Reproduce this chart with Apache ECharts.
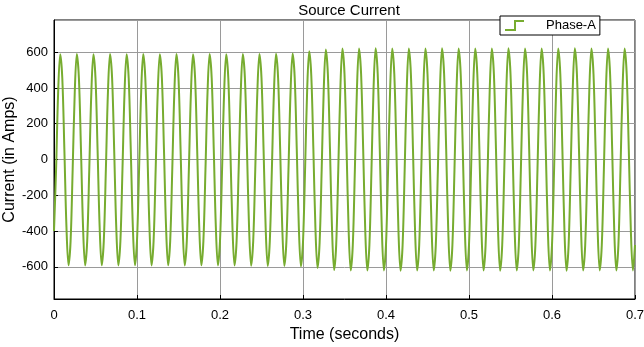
<!DOCTYPE html>
<html>
<head>
<meta charset="utf-8">
<script src="https://cdn.jsdelivr.net/npm/echarts@6/dist/echarts.min.js"></script>
<style>
html,body{margin:0;padding:0;background:#fff;}
#c{width:644px;height:347px;}
</style>
</head>
<body>
<div id="c"></div>
<script>
// Sample time step of the waveform (seconds)
var timeStep = 0.0025;
var xTicks = [0, 0.1, 0.2, 0.3, 0.4, 0.5, 0.6, 0.7];
var yTicks = [-600, -400, -200, 0, 200, 400, 600];
var seriesName = 'Phase-A';
// Phase-A source current samples (A), one row per 20 ms cycle
var phaseA = [
  -400, -55, 376, 589, 454, 55, -377, -591,
  -455, -54, 375, 590, 455, 56, -378, -592,
  -456, -55, 376, 589, 454, 55, -377, -591,
  -455, -55, 377, 590, 455, 55, -378, -592,
  -456, -54, 376, 589, 454, 56, -377, -591,
  -455, -55, 376, 590, 455, 55, -378, -592,
  -456, -55, 377, 589, 454, 55, -377, -591,
  -455, -54, 376, 590, 455, 56, -378, -592,
  -456, -55, 376, 589, 454, 55, -377, -591,
  -455, -55, 377, 590, 455, 55, -378, -592,
  -456, -54, 376, 589, 454, 56, -377, -593,
  -456, -55, 376, 590, 455, 55, -378, -594,
  -457, -55, 377, 590, 455, 55, -379, -595,
  -458, -55, 377, 591, 456, 56, -379, -595,
  -458, -56, 378, 592, 457, 56, -381, -598,
  -461, -57, 386, 605, 467, 57, -387, -606,
  -467, -58, 392, 615, 474, 58, -393, -618,
  -476, -58, 396, 620, 478, 58, -396, -621,
  -478, -58, 396, 621, 478, 58, -396, -621,
  -478, -58, 397, 622, 479, 58, -396, -620,
  -477, -58, 396, 621, 478, 58, -397, -622,
  -479, -58, 396, 620, 477, 58, -396, -621,
  -478, -58, 396, 621, 478, 58, -396, -621,
  -478, -58, 397, 622, 479, 58, -397, -622,
  -479, -58, 396, 621, 478, 58, -396, -620,
  -477, -58, 396, 620, 477, 58, -396, -621,
  -478, -58, 396, 621, 478, 58, -397, -622,
  -479, -58, 397, 622, 479, 58, -396, -621,
  -478, -58, 396, 621, 478, 58, -396, -620,
  -477, -58, 396, 620, 477, 58, -396, -621,
  -478, -58, 397, 621, 478, 58, -397, -622,
  -479, -58, 396, 622, 479, 58, -396, -621,
  -478, -58, 396, 621, 478, 58, -396, -620,
  -477, -58, 396, 620, 477, 58, -397, -621,
  -478, -58, 396, 621, 478, 58, -396, -621,
  -478
];

var data = phaseA.map(function (v, i) { return [+(i * timeStep).toFixed(4), v]; });

var FONT = '"Liberation Sans", Arial, Helvetica, sans-serif';
var chart = echarts.init(document.getElementById('c'), null, {renderer: 'canvas'});
chart.setOption({
  animation: false,
  backgroundColor: '#ffffff',
  title: {
    text: 'Source Current',
    left: 344, top: -2,
    textAlign: 'center',
    textStyle: {fontFamily: FONT, fontSize: 15, fontWeight: 'normal', color: '#000'}
  },
  legend: {
    left: 500, top: 16,
    padding: [3, 4, 3, 5],
    backgroundColor: '#fff',
    borderColor: '#000', borderWidth: 1, borderRadius: 0,
    itemWidth: 19, itemHeight: 11,
    icon: 'path://M0,9 L9,9 L9,0 L19,0 L19,2 L11,2 L11,11 L0,11 Z',
    textStyle: {fontFamily: FONT, fontSize: 13, color: '#000', padding: [0, 0, 0, 17]},
    data: [seriesName]
  },
  grid: {
    left: 54, right: 9, top: 20, bottom: 48,
    containLabel: false, outerBoundsMode: 'none',
    show: true, borderColor: '#000', borderWidth: 1, backgroundColor: '#fff'
  },
  xAxis: {
    type: 'value',
    min: xTicks[0], max: xTicks[xTicks.length - 1], interval: 0.1,
    name: 'Time (seconds)', nameLocation: 'middle', nameGap: 28, nameMoveOverlap: false,
    nameTextStyle: {fontFamily: FONT, fontSize: 16, color: '#000'},
    axisLine: {show: true, onZero: false, lineStyle: {color: '#000', width: 1}},
    axisTick: {show: true, inside: true, length: 4, lineStyle: {color: '#000'}},
    axisLabel: {fontFamily: FONT, fontSize: 13, color: '#000', margin: 10,
      formatter: function (v) { return String(+v.toFixed(2)); }},
    splitLine: {show: true, lineStyle: {color: '#9a9a9a', width: 1}}
  },
  yAxis: {
    type: 'value',
    min: -780, max: 780, splitNumber: 8,
    name: 'Current (in Amps)', nameLocation: 'middle', nameGap: 36, nameMoveOverlap: false,
    nameTextStyle: {fontFamily: FONT, fontSize: 16, color: '#000'},
    axisLine: {show: true, onZero: false, lineStyle: {color: '#000', width: 1}},
    axisTick: {show: true, inside: true, length: 4, lineStyle: {color: '#000'}},
    axisLabel: {fontFamily: FONT, fontSize: 13, color: '#000', margin: 6,
      showMinLabel: false, showMaxLabel: false,
      formatter: function (v) { return yTicks.indexOf(v) >= 0 ? String(v) : ''; }},
    splitLine: {show: true, lineStyle: {color: '#9a9a9a', width: 1}}
  },
  series: [{
    name: seriesName,
    type: 'line',
    data: data,
    showSymbol: false,
    smooth: 0.35,
    lineStyle: {color: '#77AC30', width: 2},
    itemStyle: {color: '#77AC30'},
    clip: true
  }]
});
</script>
</body>
</html>
